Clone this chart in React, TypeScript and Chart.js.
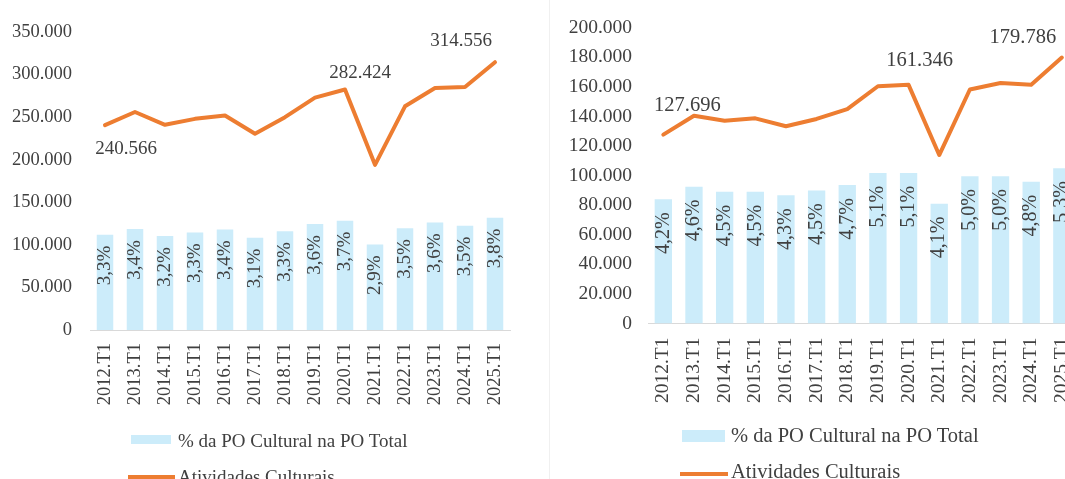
import React, { useEffect, useRef } from "react";
import { Chart, registerables } from "chart.js";

Chart.register(...registerables);

// ---------- data ----------
const categories = [
  "2012.T1", "2013.T1", "2014.T1", "2015.T1", "2016.T1", "2017.T1", "2018.T1",
  "2019.T1", "2020.T1", "2021.T1", "2022.T1", "2023.T1", "2024.T1", "2025.T1",
];

// left panel
const leftLineValues = [
  240566, 256000, 241000, 248000, 252000, 230500, 250000,
  273000, 282424, 194000, 262700, 284200, 285400, 314556,
];
const leftBarValues = [
  112000, 118500, 110300, 114600, 118100, 108400, 116100,
  124400, 128300, 100500, 119600, 126300, 122500, 131900,
];
const leftBarLabels = [
  "3,3%", "3,4%", "3,2%", "3,3%", "3,4%", "3,1%", "3,3%",
  "3,6%", "3,7%", "2,9%", "3,5%", "3,6%", "3,5%", "3,8%",
];
const leftLabeledPoints = [0, 8, 13];
const leftYMax = 350000;
const leftYStep = 50000;

// right panel
const rightLineValues = [
  127696, 140500, 137100, 138700, 133400, 138300, 144900,
  160400, 161346, 113900, 158200, 162600, 161500, 179786,
];
const rightBarValues = [
  84000, 92500, 89000, 89000, 86700, 90000, 93600,
  101800, 101800, 81000, 99600, 99600, 95800, 105000,
];
const rightBarLabels = [
  "4,2%", "4,6%", "4,5%", "4,5%", "4,3%", "4,5%", "4,7%",
  "5,1%", "5,1%", "4,1%", "5,0%", "5,0%", "4,8%", "5,3%",
];
const rightLabeledPoints = [0, 8, 13];
const rightYMax = 200000;
const rightYStep = 20000;

const barSeriesName = "% da PO Cultural na PO Total";
const lineSeriesName = "Atividades Culturais";

// ---------- styles ----------
const BLUE = "#CCECFA";
const ORANGE = "#ED7D31";
const TEXT = "#404040";
const FONT = '"Liberation Serif", "DejaVu Serif", serif';

const fmt = (v: number) =>
  Math.round(v).toString().replace(/\B(?=(\d{3})+(?!\d))/g, ".");

const labelPlugin = {
  id: "customLabels",
  afterDatasetsDraw(chart: any, _args: any, opts: any) {
    const ctx = chart.ctx as CanvasRenderingContext2D;
    ctx.save();
    // bar labels (rotated, inside end)
    const barMeta = chart.getDatasetMeta(1);
    ctx.fillStyle = TEXT;
    ctx.font = `${opts.barFontSize}px ${FONT}`;
    barMeta.data.forEach((el: any, i: number) => {
      ctx.save();
      ctx.translate(el.x, el.y + opts.barOffset);
      ctx.rotate(-Math.PI / 2);
      ctx.textAlign = "right";
      ctx.textBaseline = "middle";
      ctx.fillText(opts.barLabels[i], 0, 0);
      ctx.restore();
    });
    // line point labels
    const lineMeta = chart.getDatasetMeta(0);
    const values = chart.data.datasets[0].data as number[];
    ctx.font = `${opts.lineFontSize}px ${FONT}`;
    ctx.textAlign = "center";
    ctx.textBaseline = "middle";
    opts.pointIdx.forEach((idx: number, k: number) => {
      const el = lineMeta.data[idx];
      const [dx, dy] = opts.pointOffsets[k];
      ctx.fillText(fmt(values[idx]), el.x + dx, el.y + dy);
    });
    ctx.restore();
  },
};

function makeConfig(p: any): any {
  return {
    type: "bar",
    data: {
      labels: categories,
      datasets: [
        {
          type: "line",
          label: lineSeriesName,
          data: p.line,
          borderColor: ORANGE,
          borderWidth: 4,
          pointRadius: 0,
          tension: 0,
          borderJoinStyle: "round",
          borderCapStyle: "round",
          order: 0,
        },
        {
          type: "bar",
          label: barSeriesName,
          data: p.bars,
          backgroundColor: BLUE,
          barPercentage: p.barPct,
          categoryPercentage: 1,
          order: 1,
        },
      ],
    },
    options: {
      responsive: false,
      animation: false,
      events: [],
      layout: { padding: { left: 0, right: p.padRight, top: p.padTop, bottom: 0 } },
      plugins: {
        legend: { display: false },
        tooltip: { enabled: false },
        customLabels: {
          barLabels: p.barLabels,
          barFontSize: p.barFont,
          barOffset: p.barOffset,
          lineFontSize: p.lineFont,
          pointIdx: p.pointIdx,
          pointOffsets: p.pointOffsets,
        },
      },
      scales: {
        x: {
          grid: { display: false, drawTicks: false },
          border: { display: true, color: "#D9D9D9", width: 1 },
          ticks: {
            autoSkip: false,
            maxRotation: 90,
            minRotation: 90,
            padding: p.xPad,
            color: TEXT,
            font: { family: FONT, size: p.tickFont },
          },
          afterFit: (s: any) => {
            s.height = p.xHeight;
          },
        },
        y: {
          min: 0,
          max: p.yMax,
          grid: { display: false, drawTicks: false },
          border: { display: false },
          ticks: {
            stepSize: p.yStep,
            padding: p.yPad,
            color: TEXT,
            font: { family: FONT, size: p.tickFont },
            callback: (v: any) => fmt(Number(v)),
          },
          afterFit: (s: any) => {
            s.width = p.yWidth;
          },
        },
      },
    },
    plugins: [labelPlugin],
  };
}

export default function App() {
  const leftRef = useRef<HTMLCanvasElement>(null);
  const rightRef = useRef<HTMLCanvasElement>(null);

  useEffect(() => {
    const left = new Chart(
      leftRef.current!,
      makeConfig({
        line: leftLineValues,
        bars: leftBarValues,
        barLabels: leftBarLabels,
        pointIdx: leftLabeledPoints,
        pointOffsets: [[21, 24], [15, -17], [-34, -21]],
        yMax: leftYMax,
        yStep: leftYStep,
        barPct: 0.55,
        padRight: 30,
        padTop: 32,
        xHeight: 149,
        yWidth: 90,
        yPad: 18,
        xPad: 13,
        tickFont: 18.5,
        barFont: 19,
        barOffset: 11,
        lineFont: 19,
      })
    );
    const right = new Chart(
      rightRef.current!,
      makeConfig({
        line: rightLineValues,
        bars: rightBarValues,
        barLabels: rightBarLabels,
        pointIdx: rightLabeledPoints,
        pointOffsets: [[24, -29], [11, -24], [-39, -20]],
        yMax: rightYMax,
        yStep: rightYStep,
        barPct: 0.565,
        padRight: 21,
        padTop: 22,
        xHeight: 155.5,
        yWidth: 108,
        yPad: 16,
        xPad: 14,
        tickFont: 19.5,
        barFont: 20,
        barOffset: 13,
        lineFont: 20.5,
      })
    );
    return () => {
      left.destroy();
      right.destroy();
    };
  }, []);

  const txt = (extra: any): any => ({
    position: "absolute",
    whiteSpace: "nowrap",
    color: TEXT,
    fontFamily: FONT,
    ...extra,
  });

  return (
    <div
      style={{
        position: "fixed",
        left: 0,
        top: 0,
        width: 1065,
        height: 479,
        overflow: "hidden",
        background: "#fff",
      }}
    >
      <canvas
        ref={leftRef}
        width={540}
        height={479}
        style={{ position: "absolute", left: 0, top: 0, width: 540, height: 479 }}
      />
      <div style={{ position: "absolute", left: 549, top: 0, width: 1, height: 479, background: "#F0F0F0" }} />
      <canvas
        ref={rightRef}
        width={560}
        height={479}
        style={{ position: "absolute", left: 540, top: 0, width: 560, height: 479 }}
      />

      {/* left legend */}
      <div style={{ position: "absolute", left: 131, top: 435, width: 40, height: 9, background: BLUE }} />
      <div style={txt({ left: 178, top: 431, fontSize: 19, lineHeight: "19px" })}>{barSeriesName}</div>
      <div style={{ position: "absolute", left: 128, top: 475, width: 47, height: 4, background: ORANGE }} />
      <div style={txt({ left: 178, top: 467, fontSize: 19, lineHeight: "19px" })}>{lineSeriesName}</div>

      {/* right legend */}
      <div style={{ position: "absolute", left: 682, top: 430, width: 43, height: 12, background: BLUE }} />
      <div style={txt({ left: 731, top: 425, fontSize: 20.5, lineHeight: "20.5px" })}>{barSeriesName}</div>
      <div style={{ position: "absolute", left: 680, top: 472, width: 48, height: 4, background: ORANGE }} />
      <div style={txt({ left: 731, top: 461, fontSize: 20.5, lineHeight: "20.5px" })}>{lineSeriesName}</div>
    </div>
  );
}
